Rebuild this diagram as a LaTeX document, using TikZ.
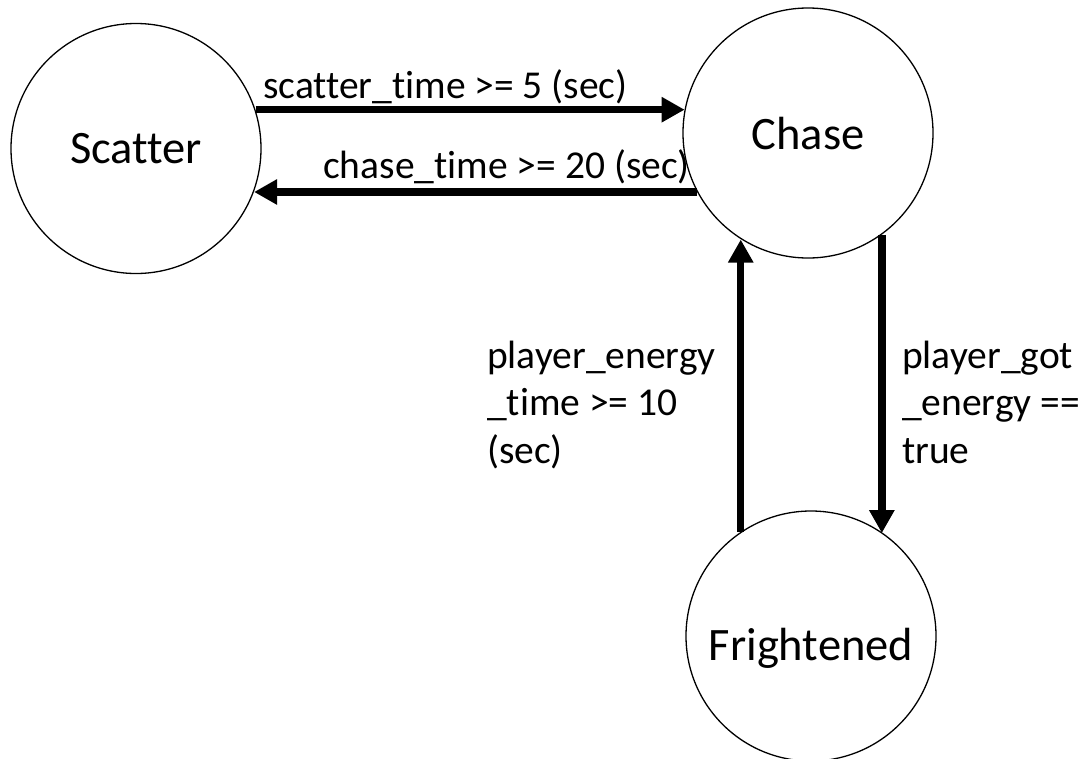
\documentclass[tikz,border=0pt]{standalone}
\usepackage{fontspec}
\setmainfont{Carlito}[Ligatures=NoCommon]
\usetikzlibrary{arrows.meta}
\begin{document}
\begin{tikzpicture}[x=1pt,y=-1pt,
  state/.style={circle, draw, line width=1.3pt, minimum size=250pt, inner sep=0pt,
    text depth=0pt, font=\fontsize{46.5}{56}\selectfont},
  trans/.style={line width=7.5pt, -{Triangle[length=23pt,width=24pt]}},
  cond/.style={font=\fontsize{39.5}{47.5}\selectfont, inner sep=0pt, align=left}]
\useasboundingbox (0,0) rectangle (1084,758);

% states
\node[state] (scatter) at (136,148.5) {Scatter};
\node[state] (chase)   at (808,133)   {Chase};
\node[state, text height=48pt] (fright) at (811,636) {Frightened};

% transitions
\draw[trans] (scatter.18) -- (scatter.18 -| chase.169);
\draw[trans] (chase.208) -- (chase.208 -| scatter.-20);
\draw[trans] (fright.124) -- (fright.124 |- chase.-122);
\draw[trans] (chase.-54) -- (chase.-54 |- fright.55);

% transition conditions (multi-line ones are anchored at their last baseline)
\node[cond, anchor=base west] (c1) at (263,98)  {scatter\_time >= 5 (sec)};
\node[cond, anchor=base west] (c2) at (323,178) {chase\_time >= 20 (sec)};
\node[cond, anchor=base west] (c3) at (487,463) {player\_energy\\\_time >= 10\\(sec)};
\node[cond, anchor=base west] (c4) at (902,463) {player\_got\\\_energy ==\\true};
\end{tikzpicture}
\end{document}
